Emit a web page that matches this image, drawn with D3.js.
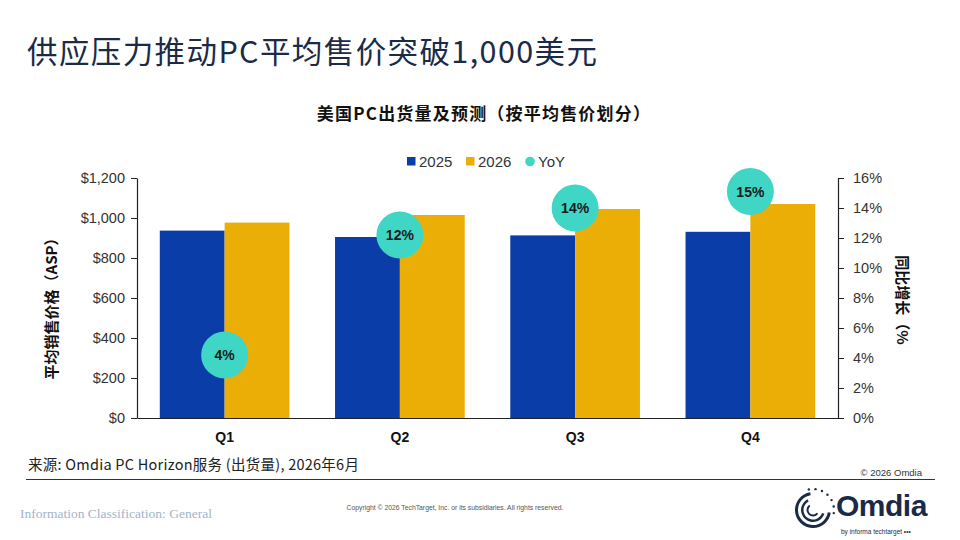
<!DOCTYPE html>
<html><head><meta charset="utf-8">
<script src="https://cdn.jsdelivr.net/npm/d3@7"></script>
<style>
html,body{margin:0;padding:0;background:#fff;}
svg{display:block;}
</style></head>
<body>
<svg id="chart" width="960" height="540"></svg>
<script>
// ---- data ----
const quarters = ["Q1", "Q2", "Q3", "Q4"];
const series = ["2025", "2026"];
const asp2025 = [937, 905, 913, 931];
const asp2026 = [977, 1015, 1045, 1070];
const yoy = [4.2, 12.2, 14.0, 15.1];
const leftTicks = [0, 200, 400, 600, 800, 1000, 1200];
const rightTicks = [0, 2, 4, 6, 8, 10, 12, 14, 16];

const colors = {"2025": "#0B3DA8", "2026": "#EBAE06", "YoY": "#3FD6C6"};
const FONT = "'Liberation Sans', Arial, 'Noto Sans CJK SC', sans-serif";
const CJK = "'Noto Sans CJK SC', 'Liberation Sans', sans-serif";

const svg = d3.select("#chart");
const M = {left: 137, right: 838, top: 178, bottom: 418};

// title
svg.append("text").attr("x", 27).attr("y", 63)
  .attr("font-family", CJK).attr("font-size", 30.5).attr("font-weight", 400)
  .attr("letter-spacing", 1.4)
  .attr("fill", "#1B2A47").text("供应压力推动PC平均售价突破1,000美元");

// chart title
svg.append("text").attr("x", 484).attr("y", 120).attr("text-anchor", "middle")
  .attr("font-family", CJK).attr("font-size", 17).attr("font-weight", 700)
  .attr("letter-spacing", 1.2)
  .attr("fill", "#111").text("美国PC出货量及预测（按平均售价划分）");

// scales
const x0 = d3.scaleBand().domain(quarters).range([M.left, M.right])
  .paddingInner(0.26).paddingOuter(0.13);
const x1 = d3.scaleBand().domain(series).range([0, x0.bandwidth()]);
const y = d3.scaleLinear().domain([0, 1200]).range([M.bottom, M.top]);
const y2 = d3.scaleLinear().domain([0, 16]).range([M.bottom, M.top]);

const rows = quarters.map((q, i) => ({q, "2025": asp2025[i], "2026": asp2026[i], yoy: yoy[i]}));

// bars
const g = svg.append("g");
rows.forEach(r => {
  series.forEach(s => {
    g.append("rect")
      .attr("x", x0(r.q) + x1(s))
      .attr("y", y(r[s]))
      .attr("width", x1.bandwidth())
      .attr("height", y(0) - y(r[s]))
      .attr("fill", colors[s]);
  });
});

// axes
const leftAxis = svg.append("g").attr("transform", `translate(${M.left},0)`)
  .call(d3.axisLeft(y).tickValues(leftTicks).tickSize(6).tickPadding(6).tickSizeOuter(0)
    .tickFormat(d => "$" + d3.format(",")(d)));
const rightAxis = svg.append("g").attr("transform", `translate(${M.right},0)`)
  .call(d3.axisRight(y2).tickValues(rightTicks).tickSize(6).tickPadding(9).tickSizeOuter(0)
    .tickFormat(d => d + "%"));
const bottomAxis = svg.append("g").attr("transform", `translate(0,${M.bottom})`)
  .call(d3.axisBottom(x0).tickSize(0).tickPadding(14));

[leftAxis, rightAxis, bottomAxis].forEach(a => {
  a.selectAll("path.domain").attr("stroke", "#222").attr("stroke-width", 1.2);
  a.selectAll(".tick line").attr("stroke", "#222");
  a.selectAll("text").attr("font-family", FONT).attr("font-size", 14.5).attr("fill", "#333");
});
bottomAxis.selectAll("text").attr("font-weight", 700).attr("fill", "#111").attr("font-size", 14);

// YoY circles
rows.forEach(r => {
  const cx = x0(r.q) + x0.bandwidth() / 2;
  const cy = y2(r.yoy);
  svg.append("circle").attr("cx", cx).attr("cy", cy).attr("r", 23.5).attr("fill", colors.YoY);
  svg.append("text").attr("x", cx).attr("y", cy + 5).attr("text-anchor", "middle")
    .attr("font-family", FONT).attr("font-size", 14).attr("font-weight", 700)
    .attr("fill", "#1a1a1a").text(d3.format(".0f")(r.yoy) + "%");
});

// legend
const lg = svg.append("g").attr("font-family", FONT).attr("font-size", 15).attr("fill", "#333");
lg.append("rect").attr("x", 407).attr("y", 157).attr("width", 8.5).attr("height", 8.5).attr("fill", colors["2025"]);
lg.append("text").attr("x", 419).attr("y", 167).text(series[0]);
lg.append("rect").attr("x", 466).attr("y", 157).attr("width", 8.5).attr("height", 8.5).attr("fill", colors["2026"]);
lg.append("text").attr("x", 478).attr("y", 167).text(series[1]);
lg.append("circle").attr("cx", 530).attr("cy", 161.5).attr("r", 4.8).attr("fill", colors.YoY);
lg.append("text").attr("x", 538).attr("y", 167).text("YoY");

// axis titles
svg.append("text").attr("transform", "translate(57,305) rotate(-90)").attr("text-anchor", "middle")
  .attr("font-family", CJK).attr("font-size", 15).attr("font-weight", 700).attr("fill", "#111")
  .text("平均销售价格（ASP）");
svg.append("text").attr("transform", "translate(897,300) rotate(90)").attr("text-anchor", "middle")
  .attr("font-family", CJK).attr("font-size", 15).attr("font-weight", 700).attr("fill", "#111")
  .text("同比增长（%");

// source and footer
svg.append("text").attr("x", 28).attr("y", 470)
  .attr("font-family", "'Noto Sans CJK SC', 'Open Sans', sans-serif").attr("font-size", 14.5)
  .attr("letter-spacing", 0.25)
  .attr("fill", "#222").text("来源: Omdia PC Horizon服务 (出货量), 2026年6月");
svg.append("text").attr("x", 922).attr("y", 476).attr("text-anchor", "end")
  .attr("font-family", FONT).attr("font-size", 9.5).attr("fill", "#333").text("© 2026 Omdia");
svg.append("line").attr("x1", 26).attr("x2", 935).attr("y1", 479.5).attr("y2", 479.5)
  .attr("stroke", "#333").attr("stroke-width", 1.2);

svg.append("text").attr("x", 20).attr("y", 518)
  .attr("font-family", "'Liberation Serif', 'DejaVu Serif', serif").attr("font-size", 13.5)
  .attr("fill", "#9FB4C8").text("Information Classification: General");
svg.append("text").attr("x", 455).attr("y", 510).attr("text-anchor", "middle")
  .attr("font-family", FONT).attr("font-size", 6.8).attr("fill", "#555")
  .text("Copyright © 2026 TechTarget, Inc. or its subsidiaries. All rights reserved.");

// Omdia logo
const logo = svg.append("g").attr("transform", "translate(813,510)");
const navy = "#1B2A47";
const arcGen = d3.arc();
logo.append("path").attr("d", arcGen({innerRadius: 15, outerRadius: 18, startAngle: Math.PI * 0.55, endAngle: Math.PI * 1.95})).attr("fill", navy);
logo.append("path").attr("d", arcGen({innerRadius: 9.5, outerRadius: 12, startAngle: Math.PI * 0.6, endAngle: Math.PI * 1.85})).attr("fill", navy);
logo.append("path").attr("d", arcGen({innerRadius: 4.5, outerRadius: 6.5, startAngle: Math.PI * 0.7, endAngle: Math.PI * 1.8})).attr("fill", navy);
d3.range(0, 7).forEach(i => {
  const a = -Math.PI / 2 + i * 0.32 - 0.2;
  logo.append("circle").attr("cx", Math.cos(a) * 21).attr("cy", Math.sin(a) * 21).attr("r", 1.2).attr("fill", navy);
});
svg.append("text").attr("x", 836).attr("y", 516).attr("font-family", "'Liberation Sans', Arial, sans-serif")
  .attr("font-size", 30).attr("font-weight", 700).attr("fill", navy).attr("letter-spacing", -0.5).text("Omdia");
svg.append("text").attr("x", 841).attr("y", 534).attr("font-family", FONT)
  .attr("font-size", 6.5).attr("fill", navy).text("by informa techtarget •••");
</script>
</body></html>
